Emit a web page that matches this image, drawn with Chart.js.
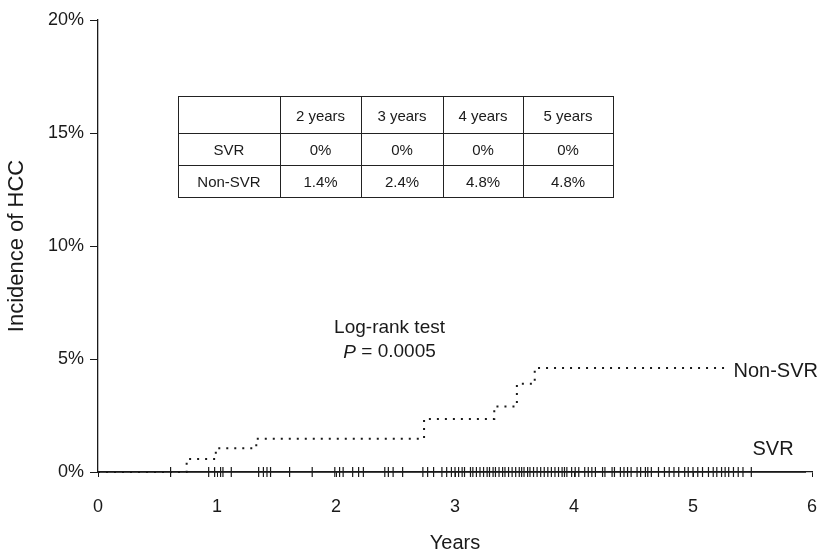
<!DOCTYPE html>
<html>
<head>
<meta charset="utf-8">
<script src="https://cdn.jsdelivr.net/npm/chart.js@4"></script>
<style>
  html, body { margin: 0; padding: 0; background: #fff; overflow: hidden; }
  #wrap { width: 822px; height: 558px; position: relative; }
  #hcc { display: block; }
</style>
</head>
<body>
<div id="wrap"><canvas id="hcc"></canvas></div>
<script>
// Non-SVR cumulative incidence (step times in years, % after each step)
const nonSvrYears = [0, 0.745, 0.99, 1.33, 2.74, 3.33, 3.52, 3.67, 5.28];
const nonSvrPct   = [0, 0.57, 1.05, 1.47, 2.35, 2.9, 3.9, 4.6, 4.6];

// SVR stays flat at 0%
const svrYears = [0, 5.95];
const svrPct   = [0, 0];

// censored cases on the SVR curve
const svrCensored = [0.61, 0.93, 0.98, 1.03, 1.05, 1.12, 1.35, 1.39, 1.42, 1.45, 1.61, 1.80,
  1.99, 2.03, 2.06, 2.14, 2.19, 2.23, 2.41, 2.44, 2.48, 2.56, 2.73, 2.77, 2.82, 2.89,
  2.93, 2.97, 3.0, 3.03, 3.06, 3.08, 3.13, 3.15, 3.18, 3.21, 3.24, 3.27, 3.29, 3.32,
  3.34, 3.37, 3.40, 3.42, 3.45, 3.48, 3.51, 3.54, 3.56, 3.58, 3.61, 3.63, 3.66, 3.69,
  3.72, 3.75, 3.78, 3.81, 3.84, 3.87, 3.90, 3.92, 3.94, 3.98, 4.01, 4.04, 4.09, 4.12,
  4.15, 4.18, 4.24, 4.26, 4.32, 4.34, 4.39, 4.42, 4.45, 4.48, 4.53, 4.56, 4.60, 4.62,
  4.65, 4.71, 4.76, 4.80, 4.84, 4.88, 4.93, 4.96, 5.0, 5.04, 5.08, 5.13, 5.17, 5.20,
  5.24, 5.27, 5.30, 5.34, 5.38, 5.42, 5.49];

// inset table
const tableHead   = ['', '2 years', '3 years', '4 years', '5 years'];
const tableSvr    = ['SVR', '0%', '0%', '0%', '0%'];
const tableNonSvr = ['Non-SVR', '1.4%', '2.4%', '4.8%', '4.8%'];

const FONT = "'Liberation Sans', Arial, Helvetica, sans-serif";
const INK = '#1a1a1a';

function pts(xs, ys) {
  return xs.map((v, i) => ({ x: v, y: ys[i] }));
}

const notes = {
  id: 'notes',
  afterDraw(chart) {
    const ctx = chart.ctx;
    const x = chart.scales.x, y = chart.scales.y;
    ctx.save();
    ctx.fillStyle = INK;
    ctx.textBaseline = 'middle';

    // log-rank text
    ctx.font = '19px ' + FONT;
    ctx.textAlign = 'center';
    const cx = x.getPixelForValue(2.45);
    ctx.fillText('Log-rank test', cx, y.getPixelForValue(6.4));
    const pY = y.getPixelForValue(5.3);
    ctx.font = 'italic 19px ' + FONT;
    const wP = ctx.measureText('P').width;
    ctx.font = '19px ' + FONT;
    const rest = ' = 0.0005';
    const wR = ctx.measureText(rest).width;
    ctx.textAlign = 'left';
    let sx = cx - (wP + wR) / 2;
    ctx.font = 'italic 19px ' + FONT;
    ctx.fillText('P', sx, pY);
    ctx.font = '19px ' + FONT;
    ctx.fillText(rest, sx + wP, pY);

    // curve labels
    ctx.font = '20px ' + FONT;
    ctx.fillText('Non-SVR', x.getPixelForValue(5.34), y.getPixelForValue(4.45));
    ctx.fillText('SVR', x.getPixelForValue(5.5), y.getPixelForValue(1.0));

    // table
    const colX = [178, 280, 361, 443, 523, 613];
    const rowY = [96, 133, 165, 197];
    ctx.strokeStyle = '#222';
    ctx.lineWidth = 1;
    ctx.strokeRect(colX[0] + 0.5, rowY[0] + 0.5, colX[5] - colX[0], rowY[3] - rowY[0]);
    ctx.beginPath();
    for (let i = 1; i < colX.length - 1; i++) {
      ctx.moveTo(colX[i] + 0.5, rowY[0]);
      ctx.lineTo(colX[i] + 0.5, rowY[3]);
    }
    for (let j = 1; j < rowY.length - 1; j++) {
      ctx.moveTo(colX[0], rowY[j] + 0.5);
      ctx.lineTo(colX[5], rowY[j] + 0.5);
    }
    ctx.stroke();
    ctx.font = '15px ' + FONT;
    ctx.textAlign = 'center';
    [tableHead, tableSvr, tableNonSvr].forEach((row, j) => {
      row.forEach((txt, i) => {
        ctx.fillText(txt, (colX[i] + colX[i + 1]) / 2, (rowY[j] + rowY[j + 1]) / 2 + 2);
      });
    });
    ctx.restore();
  }
};

new Chart(document.getElementById('hcc'), {
  type: 'scatter',
  data: {
    datasets: [
      {
        label: 'SVR',
        data: pts(svrYears, svrPct),
        showLine: true,
        borderColor: INK,
        borderWidth: 1.3,
        pointRadius: 0,
        clip: false
      },
      {
        label: 'SVR censored',
        data: svrCensored.map(v => ({ x: v, y: 0 })),
        showLine: false,
        pointStyle: 'line',
        rotation: 90,
        pointRadius: 5,
        borderColor: INK,
        borderWidth: 1.2,
        clip: false
      },
      {
        label: 'Non-SVR',
        data: pts(nonSvrYears, nonSvrPct),
        showLine: true,
        stepped: 'before',
        borderColor: INK,
        borderWidth: 2,
        borderDash: [2, 6],
        pointRadius: 0,
        clip: false
      }
    ]
  },
  options: {
    responsive: true,
    maintainAspectRatio: false,
    animation: false,
    layout: { padding: { top: 20, right: 10, left: 0, bottom: 0 } },
    plugins: { legend: { display: false }, tooltip: { enabled: false } },
    scales: {
      x: {
        type: 'linear',
        min: 0,
        max: 6,
        afterFit: s => { s.height = 86; s.paddingLeft = 0; s.paddingRight = 0; },
        ticks: { stepSize: 1, color: INK, padding: 19, font: { family: FONT, size: 18 } },
        grid: { drawOnChartArea: false, tickLength: 5, color: INK },
        border: { color: INK, width: 1.3 },
        title: { display: true, text: 'Years', color: INK, font: { family: FONT, size: 20 }, padding: { top: 0, bottom: 3 } }
      },
      y: {
        min: 0,
        max: 20,
        afterFit: s => { s.width = 98; },
        ticks: { stepSize: 5, color: INK, padding: 6, font: { family: FONT, size: 18 }, callback: v => v + '%' },
        grid: { drawOnChartArea: false, tickLength: 8, color: INK },
        border: { color: INK, width: 1.3 },
        title: { display: true, text: 'Incidence of HCC', color: INK, font: { family: FONT, size: 22 }, padding: { top: 4, bottom: 0 } }
      }
    }
  },
  plugins: [notes]
});
</script>
</body>
</html>
